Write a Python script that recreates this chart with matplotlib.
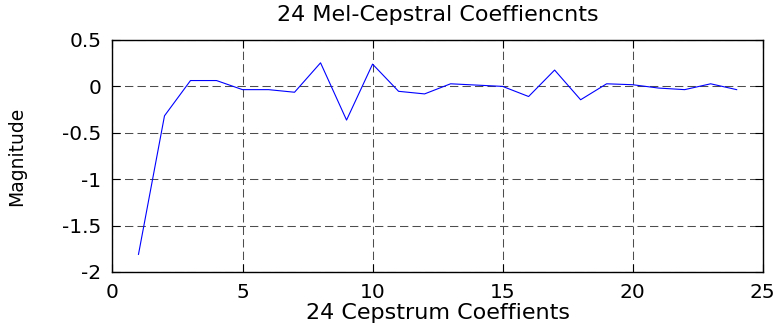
import matplotlib
matplotlib.use("Agg")
import matplotlib.pyplot as plt

plt.rcParams['font.family'] = ['DejaVu Sans']
plt.rcParams['axes.unicode_minus'] = False

coeff_index = list(range(1, 25))
magnitude = [-1.81, -0.317, 0.063, 0.063, -0.035, -0.035, -0.063, 0.254,
             -0.363, 0.240, -0.053, -0.081, 0.028, 0.014, 0.000, -0.109,
             0.176, -0.144, 0.028, 0.018, -0.018, -0.035, 0.028, -0.035]

title_text = "24 Mel-Cepstral Coeffiencnts"
xlabel_text = "24 Cepstrum Coeffients"
ylabel_text = "Magnitude"
xticks = [0, 5, 10, 15, 20, 25]
yticks = [-2, -1.5, -1, -0.5, 0, 0.5]
ytick_labels = ["-2", "-1.5", "-1", "-0.5", "0", "0.5"]

fig = plt.figure(figsize=(7.8, 3.27), dpi=100)
ax = fig.add_axes([0.1442, 0.1682, 0.8336, 0.7095])

ax.plot(coeff_index, magnitude, color='#0000ff', lw=0.8)

ax.set_xlim(0, 25)
ax.set_ylim(-2, 0.5)
ax.set_xticks(xticks)
ax.set_xticklabels([str(v) for v in xticks])
ax.set_yticks(yticks)
ax.set_yticklabels(ytick_labels)

ax.grid(True, color='0.3', linestyle=(0, (8, 4)), linewidth=0.75)
ax.tick_params(direction='in', length=5.5, width=0.8, top=True, right=True,
               labelsize=14.5, pad=8, colors='black')
for s in ax.spines.values():
    s.set_linewidth(1.0)
    s.set_color('black')

ax.set_title(title_text, fontsize=16, pad=14)
ax.set_xlabel(xlabel_text, fontsize=16, labelpad=1)
ax.set_ylabel(ylabel_text, fontsize=13.5, labelpad=26)

fig.savefig("out.png", dpi=100)
